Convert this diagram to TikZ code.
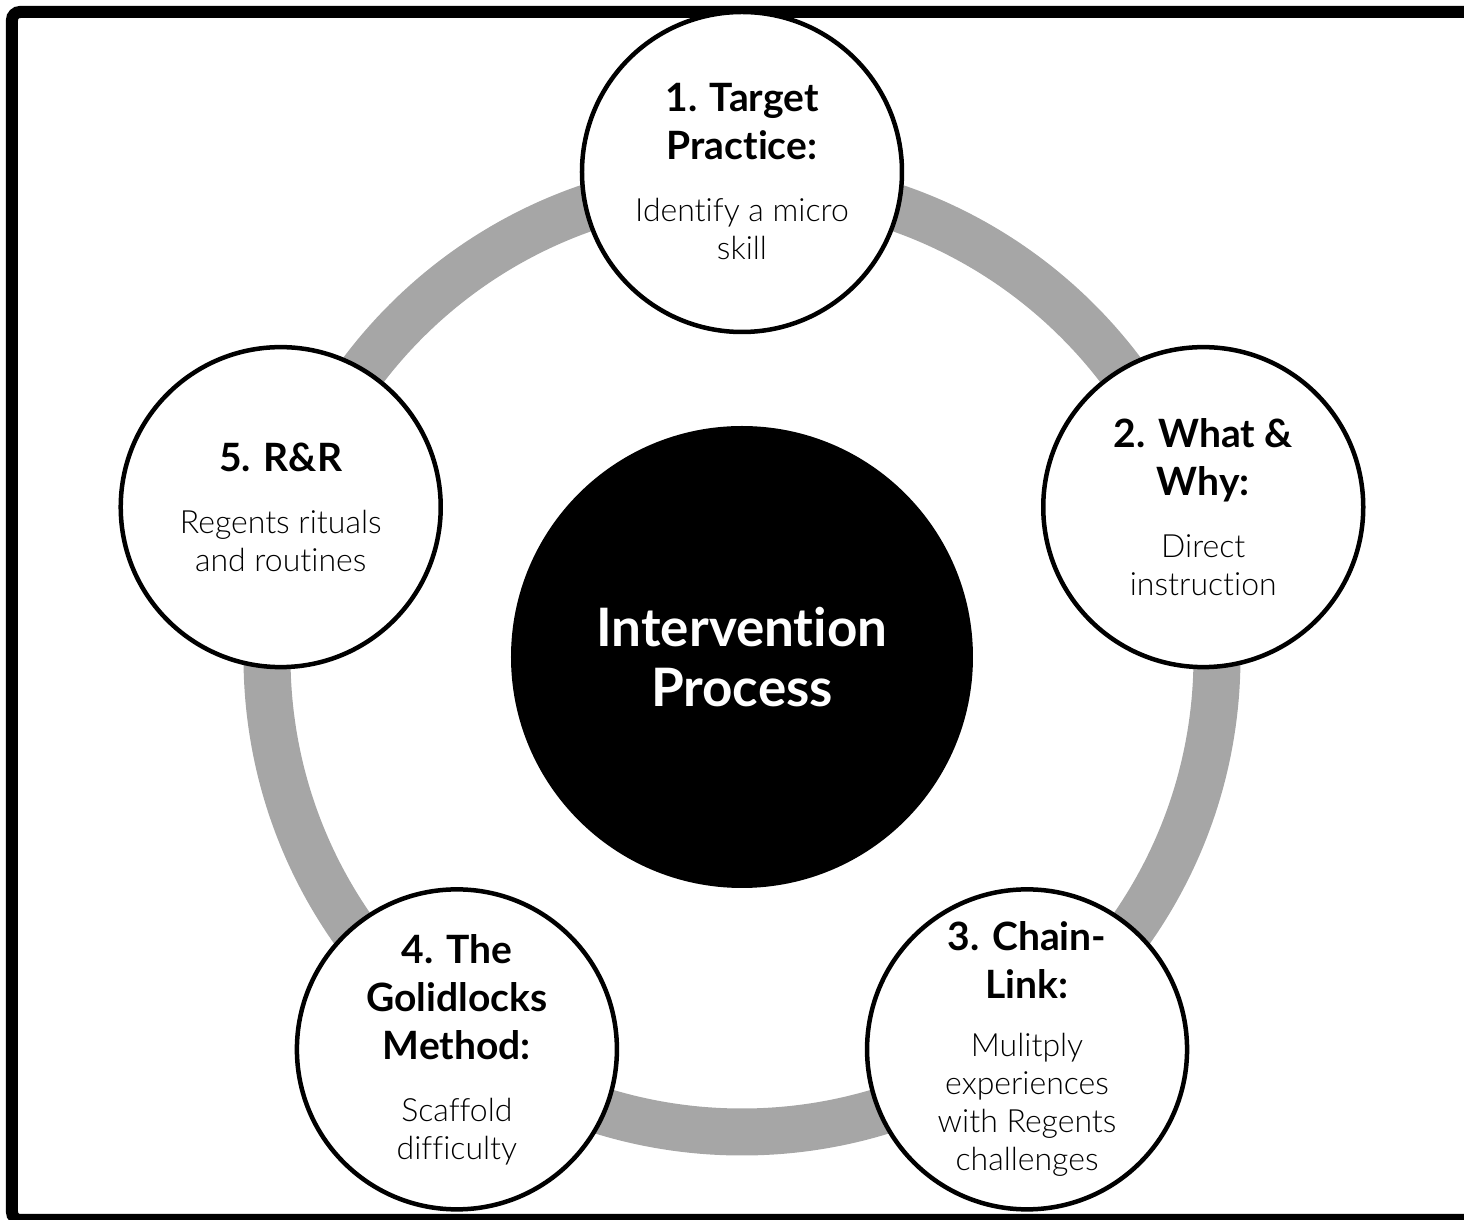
\documentclass[tikz,border=0pt]{standalone}
\usepackage{fontspec}
\setmainfont{Lato}[UprightFont=* Light, BoldFont=* Bold, Ligatures=NoCommon]
\definecolor{anneaugris}{RGB}{166,166,166}
\newcommand{\titre}[1]{{\bfseries\fontsize{19.5}{24}\selectfont #1}}
\lineskiplimit=-1000pt\relax

\begin{document}
\begin{tikzpicture}[
       x=0.5pt, y=0.5pt,
       etape/.style={
         circle,
         draw=black,
         fill=white,
         line width=2.25pt,
         minimum size=160pt,
         inner sep=0pt,
         align=center,
         font=\fontsize{16}{19}\selectfont
       },
       coeur/.style={
         circle,
         fill=black,
         text=white,
         minimum size=231pt,
         inner sep=0pt,
         align=center,
         font=\bfseries\fontsize{26.5}{30}\selectfont
       }
     ]

       \useasboundingbox (-742,-563) rectangle (722,657);
       \draw[line width=6pt, rounded corners=4pt] (-730,-563) rectangle (745,645);

       \draw[anneaugris, line width=23.5pt] (0,0) circle[radius=475];

       \node (centre) at (0,0) [coeur] {Intervention\\Process};
       \node (e1) at (90:485) [etape]
         {\titre{1. Target}\\[5pt]\titre{Practice:}\\[12pt]Identify a micro\\skill};
       \node (e2) at (18:485) [etape]
         {\titre{2. What \&}\\[5pt]\titre{Why:}\\[12pt]Direct\\instruction};
       \node (e3) at (-54:485) [etape]
         {\titre{3. Chain-}\\[5pt]\titre{Link:}\\[10pt]Mulitply\\experiences\\with Regents\\challenges};
       \node (e4) at (-126:485) [etape]
         {\titre{4. The}\\[5pt]\titre{Golidlocks}\\[5pt]\titre{Method:}\\[12pt]Scaffold\\difficulty};
       \node (e5) at (162:485) [etape]
         {\titre{5. R\&R}\\[12pt]Regents rituals\\and routines};

\end{tikzpicture}
\end{document}
